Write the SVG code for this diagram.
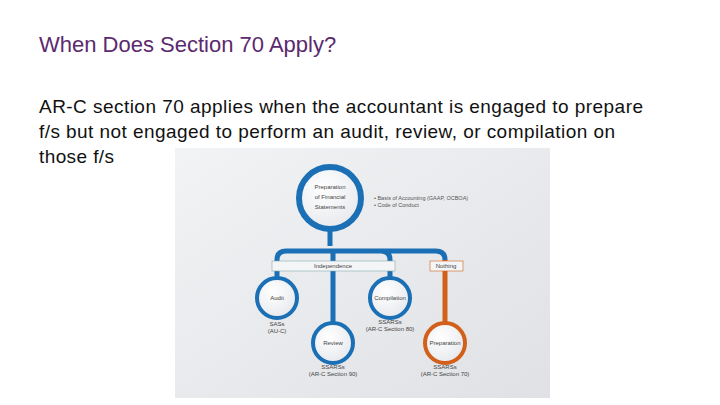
<svg xmlns="http://www.w3.org/2000/svg" width="720" height="405" viewBox="0 0 720 405">
<defs>
<linearGradient id="bg" x1="0" y1="0" x2="1" y2="1"><stop offset="0" stop-color="#f2f3f5"/><stop offset="1" stop-color="#dfe1e4"/></linearGradient>
<radialGradient id="cf" cx="0.4" cy="0.35" r="0.7"><stop offset="0" stop-color="#ffffff"/><stop offset="1" stop-color="#e6e8ec"/></radialGradient>
</defs>
<style>
.t{font-family:"Liberation Sans",Arial,sans-serif}
.b{fill:none;stroke:#1a6fb5;stroke-width:5}
.o{fill:none;stroke:#d2601a;stroke-width:5}
.n{font-family:"Liberation Sans",Arial,sans-serif;font-size:6px;fill:#444;text-anchor:middle}
</style>
<rect width="720" height="405" fill="#fff"/>
<text class="t" x="39" y="52" font-size="22" fill="#5b2a6e">When Does Section 70 Apply?</text>
<text class="t" font-size="19" fill="#111"><tspan x="39" y="113" textLength="604" lengthAdjust="spacing">AR-C section 70 applies when the accountant is engaged to prepare</tspan><tspan x="39" y="138" textLength="576" lengthAdjust="spacing">f/s but not engaged to perform an audit, review, or compilation on</tspan><tspan x="39" y="163" textLength="75" lengthAdjust="spacing">those f/s</tspan></text>
<rect x="175" y="148" width="375" height="250" fill="url(#bg)"/>
<g id="connectors">
<path class="b" d="M330 228 V246 M277 280 V260 Q277 251 286 251 H436 Q445 251 445 260 M333 323 V251 M390 280 V260 Q390 251 381 251"/>
<path class="o" d="M445 260 V323"/>
</g>
<g id="top"><circle cx="330" cy="198" r="31" fill="url(#cf)" stroke="#1a6fb5" stroke-width="6"/>
<text class="n" font-size="8.5"><tspan x="330" y="189">Preparation</tspan><tspan x="330" y="199">of Financial</tspan><tspan x="330" y="209">Statements</tspan></text>
<text class="t" font-size="5.5" fill="#555"><tspan x="374" y="200">• Basis of Accounting (GAAP, OCBOA)</tspan><tspan x="374" y="207">• Code of Conduct</tspan></text></g>
<g id="independence"><rect x="272" y="261" width="123" height="10" fill="#f4f5f7" stroke="#8aa" stroke-width="0.6"/><text class="n" x="333" y="268">Independence</text></g>
<g id="nothing"><rect x="430" y="261" width="33" height="10" fill="#f4f5f7" stroke="#d2601a" stroke-width="0.6"/><text class="n" x="446" y="268">Nothing</text></g>
<g id="audit"><circle cx="277" cy="298" r="20" fill="url(#cf)" stroke="#1a6fb5" stroke-width="4"/><text class="n" x="277" y="300">Audit</text><text class="n"><tspan x="277" y="326">SASs</tspan><tspan x="277" y="333">(AU-C)</tspan></text></g>
<g id="compilation"><circle cx="390" cy="298" r="20" fill="url(#cf)" stroke="#1a6fb5" stroke-width="4"/><text class="n" x="390" y="300">Compilation</text><text class="n"><tspan x="390" y="324">SSARSs</tspan><tspan x="390" y="331">(AR-C Section 80)</tspan></text></g>
<g id="review"><circle cx="333" cy="343" r="20" fill="url(#cf)" stroke="#1a6fb5" stroke-width="4"/><text class="n" x="333" y="345">Review</text><text class="n"><tspan x="333" y="369">SSARSs</tspan><tspan x="333" y="376">(AR-C Section 90)</tspan></text></g>
<g id="preparation"><circle cx="445" cy="343" r="20" fill="url(#cf)" stroke="#d2601a" stroke-width="4"/><text class="n" x="445" y="345">Preparation</text><text class="n"><tspan x="445" y="369">SSARSs</tspan><tspan x="445" y="376">(AR-C Section 70)</tspan></text></g>
</svg>
